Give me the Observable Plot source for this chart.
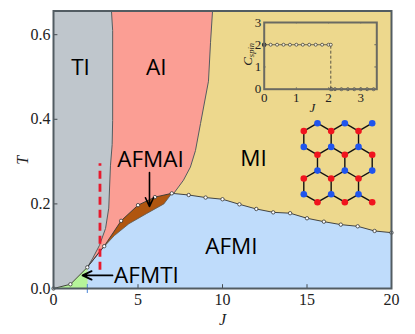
<!DOCTYPE html>
<html>
<head>
<meta charset="utf-8">
<script src="https://cdn.jsdelivr.net/npm/d3@7"></script>
<script src="https://cdn.jsdelivr.net/npm/@observablehq/plot@0.6"></script>
<style>
html,body{margin:0;padding:0;background:#fff;}
#wrap{position:relative;width:415px;height:334px;overflow:hidden;}
#wrap svg{position:absolute;left:0;top:0;background:transparent;}
</style>
</head>
<body>
<div id="wrap"></div>
<script>
// Main phase diagram
const xTicks = [0, 5, 10, 15, 20];
const yTicks = [0, 0.2, 0.4, 0.6];
const tTop = 0.656;

// Transition temperature T(J) with open circles
const transJ = [0,1,2,3,4,5,6,7,8,9,10,11,12,13,14,15,16,17,18,19,20];
const transT = [0,0.01,0.05,0.1,0.16,0.197,0.216,0.225,0.221,0.215,0.211,0.199,0.188,0.18,0.178,0.166,0.158,0.151,0.147,0.136,0.132];

// TI / AI boundary, bottom to top
const tiAiJ = [2,2.3,2.72,3.08,3.27,3.37,3.47,3.5,3.5,3.43];
const tiAiT = [0.05,0.07,0.102,0.142,0.19,0.29,0.34,0.397,0.61,0.656];

// AI / MI boundary, bottom to top
const aiMiJ = [7,7.1,7.69,8.1,8.4,8.7,9.17,9.29,9.41];
const aiMiT = [0.225,0.224,0.256,0.287,0.326,0.39,0.49,0.581,0.656];

// Lower edge of the AFMAI wedge
const afmaiLowJ = [2,2.78,3.6,4.46,5.5,6.53,7];
const afmaiLowT = [0.05,0.09,0.125,0.153,0.177,0.2,0.225];

const toPts = (js, ts) => js.map((J, i) => ({J, T: ts[i]}));
const trans = toPts(transJ, transT);
const tiAi = toPts(tiAiJ, tiAiT);
const aiMi = toPts(aiMiJ, aiMiT);
const afmaiLow = toPts(afmaiLowJ, afmaiLowT);
const upper27 = trans.filter(p => p.J >= 2 && p.J <= 7);

const polyTI = [{J:0,T:0}, ...trans.filter(p => p.J <= 2), ...tiAi, {J:0,T:tTop}];
const polyAI = [...tiAi, ...aiMi.slice().reverse(), ...upper27.slice().reverse()];
const polyAFMI = [{J:2,T:0}, ...afmaiLow, ...trans.filter(p => p.J > 7), {J:20,T:0}];
const polyAFMAI = [...upper27, ...afmaiLow.slice().reverse()];
const polyAFMTI = [...trans.filter(p => p.J <= 2), {J:2,T:0}];

const phaseNames = ["TI","AI","AFMAI","MI","AFMI","AFMTI"];
const phaseJ = [1.6,6.08,5.74,11.83,10.53,5.5];
const phaseT = [0.522,0.522,0.305,0.307,0.098,0.031];
const phases = phaseNames.map((name,i)=>({name,J:phaseJ[i],T:phaseT[i]}));

const gridLine = "#555b60";
const labelFont = "'Open Sans', sans-serif";
const serif = "'Liberation Serif', serif";

const main = Plot.plot({
  width: 415, height: 334,
  marginLeft: 53, marginRight: 24, marginTop: 10.5, marginBottom: 46,
  x: {domain: [0, 20]},
  y: {domain: [0, tTop]},
  style: {background: "transparent"},
  marks: [
    Plot.frame({fill: "#edd88d", stroke: "none"}),
    Plot.line(polyAFMI, {x:"J", y:"T", fill:"#bfdcfb", stroke:"none"}),
    Plot.line(polyAI, {x:"J", y:"T", fill:"#fb9e94", stroke:"none"}),
    Plot.line(polyTI, {x:"J", y:"T", fill:"#bfc6cc", stroke:"none"}),
    Plot.line(polyAFMAI, {x:"J", y:"T", fill:"#b0560f", stroke:"none"}),
    Plot.line(polyAFMTI, {x:"J", y:"T", fill:"#b6f49a", stroke:"none"}),
    Plot.line(tiAi, {x:"J", y:"T", stroke:gridLine, strokeWidth:1}),
    Plot.line(aiMi, {x:"J", y:"T", stroke:gridLine, strokeWidth:1}),
    Plot.line(afmaiLow, {x:"J", y:"T", stroke:gridLine, strokeWidth:0.8}),
    Plot.line(trans, {x:"J", y:"T", stroke:"#333", strokeWidth:0.9}),
    Plot.dot([{J:2,T:0}], {x:"J", y:"T", symbol:"plus", r:3, stroke:"#4a86d8", strokeWidth:1}),
    Plot.ruleX([{J:2.75}], {x:"J", y1:0.043, y2:0.295, stroke:"#e8192c", strokeWidth:2.8, strokeDasharray:"8 5"}),
    Plot.dot(trans, {x:"J", y:"T", r:1.7, fill:"#fff", stroke:"#333", strokeWidth:0.8}),
    Plot.text(phases, {x:"J", y:"T", text:"name", fontSize:22.5, fill:"#000", className:"phase"}),
    Plot.arrow([{x1:5.68,y1:0.274,x2:5.68,y2:0.194}], {x1:"x1",y1:"y1",x2:"x2",y2:"y2", bend:0, stroke:"#000", strokeWidth:1.6, headLength:9, headAngle:50}),
    Plot.arrow([{x1:3.49,y1:0.031,x2:1.72,y2:0.031}], {x1:"x1",y1:"y1",x2:"x2",y2:"y2", bend:0, stroke:"#000", strokeWidth:1.8, headLength:10, headAngle:50}),
    Plot.ruleX(xTicks, {y1:0, y2:0.009, stroke:"#444b50", strokeWidth:1}),
    Plot.ruleY(yTicks, {x1:0, x2:0.26, stroke:"#444b50", strokeWidth:1}),
    Plot.frame({stroke:"#525c62", strokeWidth:2}),
    Plot.axisX(xTicks, {tickSize:0, tickPadding:5, label:null, fontSize:16, fill:"#222"}),
    Plot.axisY(yTicks, {tickSize:0, tickPadding:3, label:null, fontSize:16, fill:"#222", tickFormat:".1f"}),
    Plot.text(["J"], {frameAnchor:"bottom", dy:36, fontSize:16, fontStyle:"italic", fill:"#222"}),
    Plot.text(["T"], {frameAnchor:"left", dx:-31, dy:15, rotate:-90, fontSize:16, fontStyle:"italic", fill:"#222"})
  ]
});

// Inset: spin Chern number
const insetTicksX = [0,1,2,3];
const insetTicksY = [0,1,2,3];
const cJ = [0,0.2,0.4,0.6,0.8,1,1.2,1.4,1.6,1.8,2,2.07,2.07,2.1,2.2,2.4,2.6,2.8,3,3.2,3.4];
const cV = [2,2,2,2,2,2,2,2,2,2,2,2,0,0,0,0,0,0,0,0,0];
const cPts = toPts(cJ, cV);
const insetAxis = "#6a6a62";

const inset = Plot.plot({
  width: 415, height: 334,
  marginLeft: 263.7, marginRight: 38.7, marginTop: 22, marginBottom: 245.3,
  x: {domain: [0, 3.5]},
  y: {domain: [0, 3]},
  style: {background: "transparent"},
  marks: [
    Plot.line(cPts.filter(p => p.T === 2), {x:"J", y:"T", stroke:"#333", strokeWidth:0.7}),
    Plot.line(cPts.filter(p => p.T === 0), {x:"J", y:"T", stroke:"#333", strokeWidth:0.7}),
    Plot.ruleX([2.07], {y1:0, y2:2, stroke:"#333", strokeWidth:0.8, strokeDasharray:"3 2"}),
    Plot.dot(cPts, {x:"J", y:"T", r:1.5, fill:"#f6f0d8", stroke:"#333", strokeWidth:0.7}),
    Plot.dot([cPts[0]], {x:"J", y:"T", r:1.6, fill:"#333", stroke:"#333"}),
    Plot.ruleX(insetTicksX.slice(1), {y1:0, y2:0.06, stroke:insetAxis}),
    Plot.ruleX(insetTicksX.slice(1), {y1:2.94, y2:3, stroke:insetAxis}),
    Plot.ruleY(insetTicksY.slice(1,3), {x1:0, x2:0.06, stroke:insetAxis}),
    Plot.ruleY(insetTicksY.slice(1,3), {x1:3.44, x2:3.5, stroke:insetAxis}),
    Plot.frame({stroke:insetAxis, strokeWidth:2}),
    Plot.axisX(insetTicksX, {tickSize:0, tickPadding:4, label:null, fontSize:13, fill:"#222"}),
    Plot.axisY(insetTicksY, {tickSize:0, tickPadding:3, label:null, fontSize:13, fill:"#222"}),
    Plot.text(["J"], {frameAnchor:"bottom", dy:23, dx:-8, fontSize:13, fontStyle:"italic", fill:"#222"}),
    Plot.text(["Cspin"], {frameAnchor:"left", dx:-16.5, dy:10, rotate:-90, fontSize:13, fontStyle:"italic", fill:"#222"})
  ]
});
d3.select(inset).selectAll("text").filter(function(){ return this.textContent === "Cspin"; }).each(function(){
  const t = d3.select(this);
  t.text(null);
  t.append("tspan").text("C");
  t.append("tspan").attr("font-size", 8.5).attr("dy", 2).text("spin");
});

// Inset: honeycomb lattice with alternating sublattice
const siteCol = [1,3,5, 0,2,4, 0,2,4, 1,3,5, 1,3,5, 0,2,4, 0,2,4, 1,3,5];
const siteRow = [0,0,0, 0.5,0.5,0.5, 1.5,1.5,1.5, 2,2,2, 3,3,3, 3.5,3.5,3.5, 4.5,4.5,4.5, 5,5,5];
const siteKind = ["B","B","B","R","R","R","B","B","B","R","R","R","B","B","B","R","R","R","B","B","B","R","R","R"];
const sites = siteCol.map((col,i)=>({col,row:siteRow[i],kind:siteKind[i]}));
const bonds = [];
sites.forEach((a,i)=>sites.forEach((b,j)=>{
  if (j<=i) return;
  const dc = Math.abs(a.col-b.col), dr = Math.abs(a.row-b.row);
  if (a.kind!==b.kind && ((dc===1 && dr===0.5) || (dc===0 && dr===1))) bonds.push({x1:a.col,y1:a.row,x2:b.col,y2:b.row});
}));

const lattice = Plot.plot({
  width: 415, height: 334,
  marginLeft: 303.3, marginRight: 43.3, marginTop: 122.7, marginBottom: 132.3,
  x: {domain: [0, 5], axis: null},
  y: {domain: [0, 5], reverse: true, axis: null},
  style: {background: "transparent"},
  marks: [
    Plot.link(bonds, {x1:"x1",y1:"y1",x2:"x2",y2:"y2", stroke:"#111", strokeWidth:1.4}),
    Plot.dot(sites, {x:"col", y:"row", r:3.3, stroke:"none", fill:d=>d.kind==="B"?"#1f55ee":"#f0141e"})
  ]
});

const wrap = document.getElementById("wrap");
wrap.append(main, inset, lattice);

// Fonts: serif for axes, humanist sans for phase names
d3.select(wrap).selectAll("text").style("font-family", serif);
d3.select(main).selectAll(".phase text, text.phase").style("font-family", labelFont);
</script>
</body>
</html>
